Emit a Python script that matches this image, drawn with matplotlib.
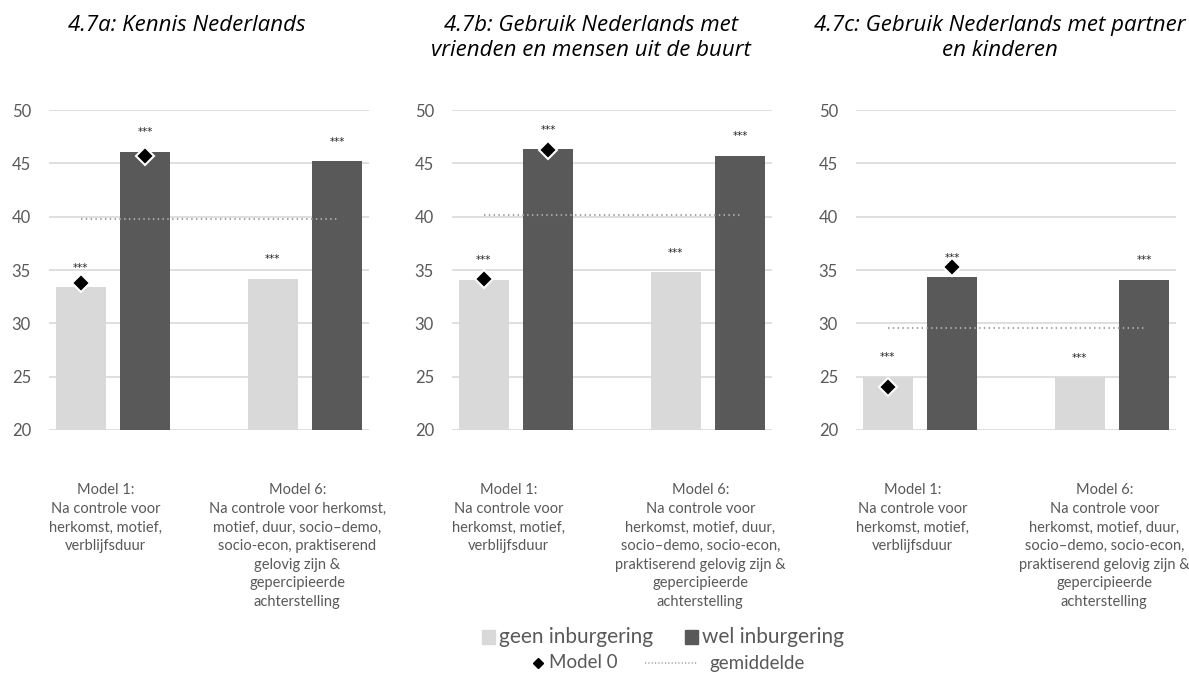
import numpy as np
import matplotlib.pyplot as plt
from matplotlib.patches import Rectangle
from matplotlib.lines import Line2D

plt.rcParams['font.family'] = ['Lato', 'DejaVu Sans']

# chart data
titles = ['4.7a: Kennis Nederlands',
          '4.7b: Gebruik Nederlands met\nvrienden en mensen uit de buurt',
          '4.7c: Gebruik Nederlands met partner\nen kinderen']

cat_labels = [
    ['Model 1:\nNa controle voor\nherkomst, motief,\nverblijfsduur',
     'Model 6:\nNa controle voor herkomst,\nmotief, duur, socio\u2013demo,\nsocio-econ, praktiserend\ngelovig zijn &\ngepercipieerde\nachterstelling'],
    ['Model 1:\nNa controle voor\nherkomst, motief,\nverblijfsduur',
     'Model 6:\nNa controle voor\nherkomst, motief, duur,\nsocio\u2013demo, socio-econ,\npraktiserend gelovig zijn &\ngepercipieerde\nachterstelling'],
    ['Model 1:\nNa controle voor\nherkomst, motief,\nverblijfsduur',
     'Model 6:\nNa controle voor\nherkomst, motief, duur,\nsocio\u2013demo, socio-econ,\npraktiserend gelovig zijn &\ngepercipieerde\nachterstelling'],
]

geen = [[33.4, 34.2], [34.1, 34.8], [25.0, 24.95]]
wel = [[46.1, 45.2], [46.3, 45.7], [34.3, 34.1]]
model0_geen = [33.75, 34.2, 24.0]
model0_wel = [45.65, 46.25, 35.25]
gemiddelde = [39.75, 40.2, 29.6]
signif = '***'

c_light = '#D9D9D9'
c_dark = '#595959'
c_text = '#595959'
c_avg = '#A6A6A6'

W, H = 1189, 673
fig = plt.figure(figsize=(W / 100, H / 100), dpi=100)

ax_left = [49, 452, 856]
title_x = [187, 591, 1000]

def fx(px):
    return px / W

def fy(py):
    return 1 - py / H

for i in range(3):
    ax = fig.add_axes([ax_left[i] / W, (H - 430) / H, 320 / W, 320 / H])
    x = np.arange(2)
    off = 0.167
    bw = 0.26
    ax.bar(x - off, geen[i], bw, color=c_light, zorder=2)
    ax.bar(x + off, wel[i], bw, color=c_dark, zorder=2)

    # significance stars
    for j in range(2):
        for xx, v in [(x[j] - off, geen[i][j]), (x[j] + off, wel[i][j])]:
            ax.annotate(signif, (xx, v), xytext=(0, 14), textcoords='offset points',
                        ha='center', va='center', fontsize=7.5, color='#262626',
                        family='DejaVu Sans')

    # average line
    ax.plot([-off, 1 + off], [gemiddelde[i]] * 2, color=c_avg, lw=1.5,
            linestyle=(0, (0.7, 1.6)), zorder=3)

    # model 0
    ax.plot([-off, off], [model0_geen[i], model0_wel[i]], linestyle='none', marker='D',
            ms=9, mfc='black', mec='white', mew=1.5, zorder=4)

    ax.set_ylim(20, 50)
    ax.set_xlim(-1 / 3, 4 / 3)
    ax.set_yticks(np.arange(20, 51, 5))
    ax.set_xticks([])
    ax.yaxis.grid(True, color=c_light, lw=1.2, zorder=0)
    ax.set_axisbelow(True)
    for s in ax.spines.values():
        s.set_visible(False)
    ax.tick_params(axis='y', length=0, pad=13, labelsize=12, labelcolor=c_text)

    # category labels
    for j in range(2):
        ax.text(x[j] - 0.04, 20 - 5.0, cat_labels[i][j], ha='center', va='top',
                fontsize=10.5, color=c_text, linespacing=1.42)

    fig.text(title_x[i] / W, fy(15), titles[i], ha='center', va='top',
             fontsize=16, style='italic', linespacing=1.25, family='Open Sans')

# legend, row 1
for sx, col, lab in [(482, c_light, 'geen inburgering'), (685, c_dark, 'wel inburgering')]:
    fig.add_artist(Rectangle((fx(sx), fy(644)), 13 / W, 14 / H, color=col,
                             transform=fig.transFigure))
    fig.text(fx(sx + 17), fy(637), lab, ha='left', va='center', fontsize=15,
             color=c_text)

# legend, row 2
fig.add_artist(Line2D([fx(538)], [fy(663)], marker='D', ms=5, color='black',
                      linestyle='none', transform=fig.transFigure))
fig.text(fx(549), fy(663), 'Model 0', ha='left', va='center', fontsize=13.5,
         color=c_text)
fig.add_artist(Line2D([fx(645), fx(698)], [fy(663), fy(663)], color=c_avg, lw=1.2,
                      linestyle=(0, (0.7, 1.3)), transform=fig.transFigure))
fig.text(fx(709), fy(663), 'gemiddelde', ha='left', va='center', fontsize=13.5,
         color=c_text)

fig.savefig('out.png', dpi=100)
